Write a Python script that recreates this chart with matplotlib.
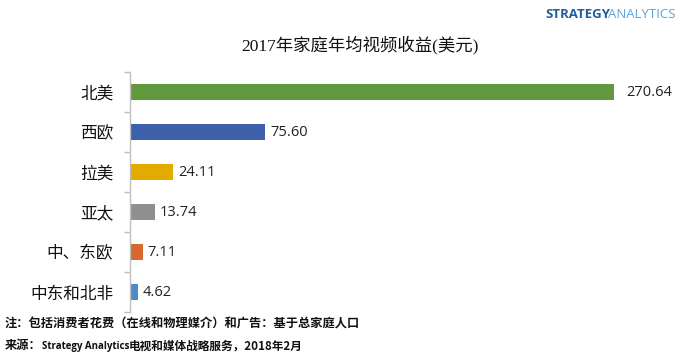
import matplotlib
matplotlib.use("Agg")
import matplotlib.pyplot as plt

categories = ["北美", "西欧", "拉美", "亚太", "中、东欧", "中东和北非"]
values = [270.64, 75.60, 24.11, 13.74, 7.11, 4.62]
labels = ["270.64", "75.60", "24.11", "13.74", "7.11", "4.62"]
colors = ["#62993E", "#3C60AA", "#E3AB00", "#8F8F8F", "#D7692A", "#4A8CC6"]

title = "2017年家庭年均视频收益(美元)"
note1 = "注：包括消费者花费（在线和物理媒介）和广告：基于总家庭人口"
note2_a = "来源："
note2_b = "Strategy Analytics"
note2_c = "电视和媒体战略服务，2018年2月"

cjk = ["Noto Sans CJK SC", "DejaVu Sans"]
plt.rcParams["font.family"] = cjk

W, H = 675, 362
fig = plt.figure(figsize=(W / 100, H / 100), dpi=100)
ax = fig.add_axes([130 / W, (H - 312) / H, 510 / W, 240 / H])

n = len(categories)
ypos = list(range(n))
ax.barh(ypos, values, height=0.4, color=colors, zorder=2)
ax.set_ylim(n - 0.5, -0.5)
ax.set_xlim(0, 510 / (484 / 270.64))

for y, v, lab in zip(ypos, values, labels):
    off = 9 if v == max(values) else 3.5
    ax.annotate(lab, (v, y), xytext=(off, 0), textcoords="offset points",
                va="center", ha="left", fontsize=10.5,
                family=["Open Sans", "DejaVu Sans"], color="#222222")

for s in ["top", "right", "bottom"]:
    ax.spines[s].set_visible(False)
ax.spines["left"].set_color("#BFBFBF")
ax.spines["left"].set_linewidth(1.0)
ax.set_xticks([])
ax.set_yticks(ypos)
ax.set_yticklabels(categories, fontsize=12, color="#111111")
ax.tick_params(axis="y", length=0, pad=12)
ax.set_yticks([i - 0.5 for i in range(n + 1)], minor=True)
ax.tick_params(axis="y", which="minor", length=4, color="#BFBFBF", width=1.0)

fig.text(360 / W, 1 - 45 / H, title, ha="center", va="center", fontsize=12.5,
         family=["Liberation Serif", "Noto Sans CJK SC"], color="#111111")

fig.text(545 / W, 1 - 14 / H, "STRATEGY", ha="left", va="center", fontsize=9.5,
         family=["Open Sans", "DejaVu Sans"], fontweight="bold", color="#1F5F9F")
fig.text(608 / W, 1 - 14 / H, "ANALYTICS", ha="left", va="center", fontsize=9.5,
         family=["Open Sans", "DejaVu Sans"], color="#5EA3D8")

fig.text(5 / W, 1 - 324 / H, note1, ha="left", va="center", fontsize=8.8,
         fontweight="bold", color="#111111")
t1 = fig.text(5 / W, 1 - 346 / H, note2_a, ha="left", va="center", fontsize=8.8,
              fontweight="bold", color="#111111")
fig.canvas.draw()
r = fig.canvas.get_renderer()
bb = t1.get_window_extent(r)
t2 = fig.text(bb.x1 / W, 1 - 346 / H, note2_b, ha="left", va="center", fontsize=7.0,
              fontweight="bold", family=["Open Sans", "DejaVu Sans"], color="#111111")
bb2 = t2.get_window_extent(r)
fig.text(bb2.x1 / W, 1 - 346 / H, note2_c, ha="left", va="center", fontsize=8.4,
         fontweight="bold", color="#111111")

fig.savefig("out.png", dpi=100)
